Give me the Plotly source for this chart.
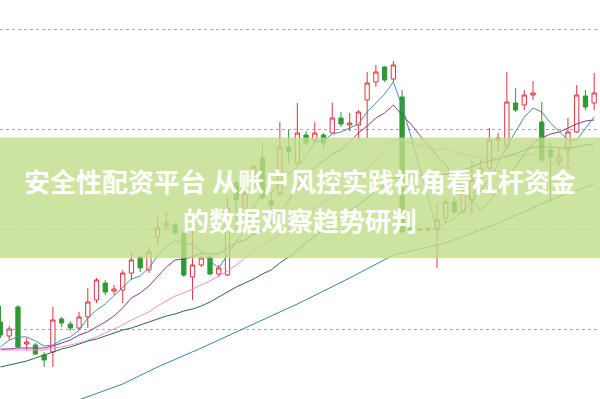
import plotly.graph_objects as go

# ---- data (price units; gridlines at 10/20/30/40) ----
idx = list(range(69))

opens = [10.7, 9.3, 12.2, 8.5, 8.4, 7.4, 7.7, 11.0, 10.5, 10.1,
         11.2, 12.9, 14.6, 13.8, 13.9, 15.6, 17.2, 15.9, 19.2, 20.4,
         20.4, 19.6, 15.2, 16.4, 17.2, 15.5, 15.4, 24.6, 22.1, 24.4,
         27.1, 22.8, 23.6, 28.2, 26.6, 29.4, 28.9, 29.4, 29.6, 31.1,
         30.4, 30.4, 32.9, 34.7, 36.2, 35.0, 33.2, 20.1, 19.9, 19.9,
         19.9, 21.1, 22.7, 21.7, 22.9, 25.1, 26.1, 28.9, 28.2, 32.6,
         32.4, 33.4, 30.7, 27.9, 26.7, 27.9, 29.7, 33.3, 32.6]
highs = [12.3, 10.3, 12.4, 9.1, 8.6, 7.7, 12.2, 11.2, 10.8, 11.7,
         14.1, 15.1, 14.9, 14.4, 15.9, 17.7, 17.4, 18.3, 21.2, 21.7,
         20.6, 19.7, 20.7, 17.4, 17.4, 16.4, 23.2, 24.9, 24.2, 26.4,
         28.6, 23.7, 30.7, 29.9, 32.6, 29.8, 30.7, 29.6, 32.6, 31.7,
         31.6, 31.9, 35.7, 36.4, 36.3, 36.8, 33.9, 20.2, 20.1, 20.2,
         22.6, 23.1, 23.2, 23.9, 26.9, 26.9, 30.1, 29.6, 35.7, 34.1,
         33.9, 34.8, 32.7, 28.6, 28.2, 31.1, 34.4, 33.9, 35.6]
lows = [9.1, 8.9, 8.1, 7.9, 7.4, 6.2, 6.2, 10.2, 9.8, 9.9,
        10.1, 12.6, 13.4, 13.4, 12.6, 14.9, 15.7, 15.6, 18.4, 19.9,
        19.4, 15.2, 12.9, 16.2, 15.4, 15.2, 15.3, 19.7, 21.9, 23.9,
        22.9, 21.9, 23.2, 26.6, 26.4, 28.3, 28.7, 27.9, 29.6, 30.2,
        29.8, 28.9, 29.1, 34.2, 34.7, 34.6, 19.6, 19.5, 19.8, 19.8,
        16.1, 20.6, 21.6, 21.6, 21.4, 24.9, 25.9, 27.7, 27.9, 31.7,
        31.9, 32.9, 26.7, 22.6, 26.4, 26.1, 29.6, 31.9, 31.9]
closes = [9.4, 10.0, 8.2, 8.7, 7.5, 6.9, 10.9, 10.6, 10.1, 11.2,
          12.7, 14.9, 13.7, 14.0, 15.6, 16.9, 16.1, 17.7, 20.1, 20.6,
          19.6, 15.4, 16.4, 17.1, 15.5, 16.1, 22.1, 22.9, 23.6, 26.2,
          23.1, 22.4, 28.2, 27.7, 29.6, 28.6, 29.6, 28.6, 31.1, 30.5,
          30.6, 31.7, 34.6, 35.7, 34.9, 36.4, 19.7, 19.6, 20.0, 20.0,
          20.9, 22.7, 21.7, 23.6, 24.9, 26.1, 28.9, 29.1, 32.7, 31.9,
          33.4, 33.6, 26.9, 27.2, 27.3, 29.7, 33.4, 32.2, 33.6]

ma5 = [8.2, 8.9, 9.2, 9.2, 8.8, 8.3, 8.4, 8.9, 9.2, 9.9,
       11.1, 11.9, 12.5, 13.3, 14.2, 15.0, 15.3, 16.1, 17.3, 18.3,
       18.8, 18.7, 18.4, 17.8, 16.8, 16.1, 17.4, 18.7, 20.0, 22.2,
       23.6, 23.6, 24.7, 25.5, 26.2, 27.3, 28.7, 28.8, 29.5, 29.7,
       30.1, 30.5, 31.7, 32.6, 33.5, 34.7, 32.3, 29.3, 26.1, 23.1,
       20.0, 20.6, 21.1, 21.8, 22.8, 23.8, 25.0, 26.5, 28.3, 29.7,
       31.2, 32.1, 31.7, 30.6, 29.7, 28.9, 28.9, 30.0, 31.2]
ma10 = [8.0, 8.0, 8.1, 8.1, 8.1, 8.1, 8.3, 8.6, 8.9, 9.4,
        9.7, 10.2, 10.7, 11.3, 12.1, 13.1, 13.6, 14.3, 15.3, 16.2,
        16.9, 17.0, 17.2, 17.6, 17.5, 17.5, 18.1, 18.6, 18.9, 19.5,
        19.8, 20.5, 21.7, 22.8, 24.2, 25.4, 26.2, 26.8, 27.5, 27.9,
        28.7, 29.6, 30.3, 31.1, 31.6, 32.4, 31.4, 30.5, 29.4, 28.3,
        27.3, 26.4, 25.2, 23.9, 22.9, 21.9, 22.8, 23.8, 25.1, 26.3,
        27.5, 28.6, 29.1, 29.5, 29.7, 30.1, 30.5, 30.8, 30.9]
ma20 = [7.9, 7.9, 7.9, 7.9, 7.9, 7.9, 8.1, 8.2, 8.4, 8.6,
        8.9, 9.2, 9.6, 10.0, 10.4, 10.9, 11.3, 11.7, 12.3, 12.8,
        13.3, 13.6, 14.0, 14.4, 14.8, 15.3, 15.8, 16.4, 17.1, 17.9,
        18.4, 18.8, 19.5, 20.2, 20.9, 21.5, 22.1, 22.7, 23.2, 23.7,
        24.3, 25.1, 26.0, 26.9, 27.9, 28.9, 28.8, 28.6, 28.4, 28.1,
        28.0, 28.0, 27.7, 27.5, 27.3, 27.1, 27.1, 27.1, 27.2, 27.3,
        27.4, 27.5, 27.1, 26.7, 26.3, 26.0, 26.7, 27.3, 28.0]
ma30 = [6.2, 6.4, 6.6, 6.8, 7.1, 7.4, 7.7, 8.0, 8.2, 8.5,
        8.8, 9.0, 9.3, 9.6, 9.9, 10.1, 10.4, 10.7, 11.0, 11.3,
        11.5, 11.8, 12.0, 12.3, 12.7, 13.2, 13.7, 14.2, 14.6, 15.0,
        15.5, 15.9, 16.6, 17.2, 17.9, 18.6, 19.3, 19.9, 20.6, 21.2,
        21.8, 22.4, 23.1, 23.8, 24.4, 25.1, 25.2, 25.3, 25.3, 25.3,
        25.3, 25.5, 25.7, 25.9, 26.2, 26.6, 26.8, 27.0, 27.3, 27.5,
        27.9, 28.2, 28.2, 28.2, 28.1, 28.1, 28.2, 28.4, 28.5]
ma60_idx = [8, 14, 18, 23, 29, 34, 40, 45, 51, 57, 63, 68]
ma60 = [2.6, 4.5, 6.2, 8.1, 10.5, 12.5, 15.1, 17.4, 18.6, 20.6, 22.9, 24.5]

grid_levels = [10, 20, 30, 40]
title_line1 = "安全性配资平台 从账户风控实践视角看杠杆资金"
title_line2 = "的数据观察趋势研判"

fig = go.Figure()
fig.add_trace(go.Candlestick(
    x=idx, open=opens, high=highs, low=lows, close=closes,
    increasing=dict(line=dict(color="#e0343c", width=1), fillcolor="#ffffff"),
    decreasing=dict(line=dict(color="#2f9a33", width=1), fillcolor="#2f9a33"),
    whiskerwidth=0, hoverinfo="skip"))

for ys, xs, col in [(ma60, ma60_idx, "#2f8c9c"), (ma30, idx, "#2e6a30"),
                    (ma20, idx, "#ea8ce2"), (ma10, idx, "#8c3a8c"),
                    (ma5, idx, "#4590a6")]:
    fig.add_trace(go.Scatter(x=xs, y=ys, mode="lines",
                             line=dict(color=col, width=1), hoverinfo="skip"))

fig.add_shape(type="rect", xref="paper", yref="paper", x0=0, x1=1,
              y0=1 - 258.3 / 399, y1=1 - 137.5 / 399, layer="above",
              line=dict(width=0), fillcolor="rgba(193,221,136,0.8)")

font = dict(family="Noto Sans CJK SC", size=26, color="white", weight="bold")
fig.add_annotation(text=title_line1, xref="paper", yref="paper", x=0.5,
                   y=1 - 180 / 399, xanchor="center", yanchor="middle",
                   showarrow=False, font=font)
fig.add_annotation(text=title_line2, xref="paper", yref="paper", x=0.5,
                   y=1 - 219 / 399, xanchor="center", yanchor="middle",
                   showarrow=False, font=font)

fig.update_layout(
    width=600, height=399, margin=dict(l=0, r=0, t=0, b=0),
    plot_bgcolor="white", paper_bgcolor="white", showlegend=False,
    xaxis=dict(range=[-0.0573, 68.67], visible=False, rangeslider=dict(visible=False)),
    yaxis=dict(range=[3.0, 42.9], tickvals=grid_levels, showticklabels=False,
               showgrid=True, gridcolor="#a8a8a8", griddash="dot", gridwidth=1,
               zeroline=False, showline=False, ticks=""),
)

fig.write_html("out.html")
